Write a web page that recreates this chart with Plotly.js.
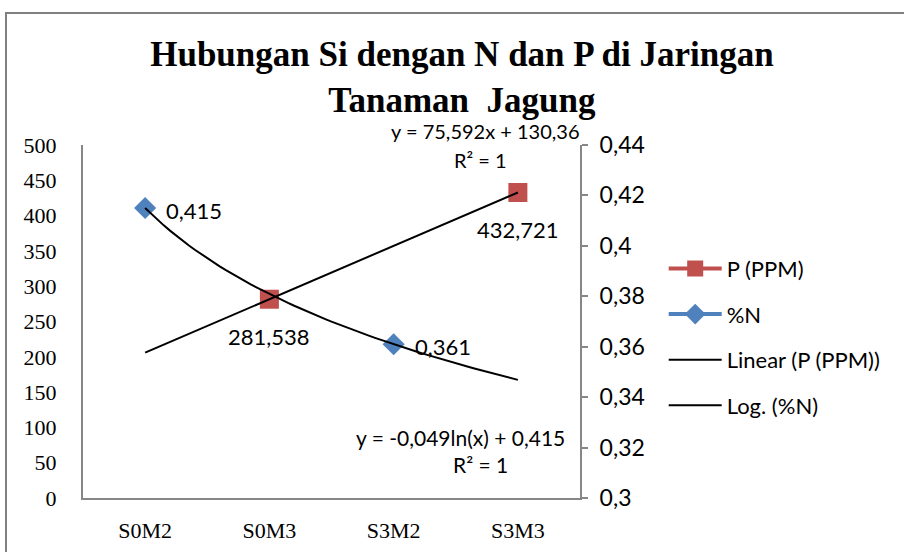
<!DOCTYPE html>
<html>
<head>
<meta charset="utf-8">
<script src="https://cdn.plot.ly/plotly-3.0.1.min.js"></script>
<style>
html,body{margin:0;padding:0;background:#fff;overflow:hidden;}
#wrap{position:relative;width:904px;height:552px;overflow:hidden;}
#chart{width:904px;height:552px;}
#frame{position:absolute;left:5px;top:12px;width:1000px;height:700px;border:2px solid #808080;pointer-events:none;}
</style>
</head>
<body>
<div id="wrap"><div id="chart"></div><div id="frame"></div></div>
<script>
// ---- data ----
var categories = ["S0M2", "S0M3", "S3M2", "S3M3"];
var xIndex = [1, 2, 3, 4];
var pPPM = [null, 281.538, null, 432.721];
var pctN = [0.415, null, 0.361, null];
var pLabels = ["", "281,538", "", "432,721"];
var nLabels = ["0,415", "", "0,361", ""];
var leftTicks = [0, 50, 100, 150, 200, 250, 300, 350, 400, 450, 500];
var rightTicks = [0.3, 0.32, 0.34, 0.36, 0.38, 0.4, 0.42, 0.44];
var rightTickText = ["0,3", "0,32", "0,34", "0,36", "0,38", "0,4", "0,42", "0,44"];
var linEq = "y = 75,592x + 130,36";
var logEq = "y = -0,049ln(x) + 0,415";
var r2Text = "R² = 1";

// ---- least-squares trendlines from the data ----
function fit(xs, ys, tx) {
  var px = [], py = [];
  for (var i = 0; i < xs.length; i++) if (ys[i] !== null) { px.push(tx(xs[i])); py.push(ys[i]); }
  var n = px.length, mx = 0, my = 0;
  for (i = 0; i < n; i++) { mx += px[i]; my += py[i]; }
  mx /= n; my /= n;
  var sxy = 0, sxx = 0;
  for (i = 0; i < n; i++) { sxy += (px[i] - mx) * (py[i] - my); sxx += (px[i] - mx) * (px[i] - mx); }
  var b = sxy / sxx; return { a: my - b * mx, b: b };
}
var linFit = fit(xIndex, pPPM, function (v) { return v; });
var logFit = fit(xIndex, pctN, function (v) { return Math.log(v); });
var trendX = [], linY = [], logY = [];
for (var s = 0; s <= 60; s++) {
  var xv = 1 + 3 * s / 60;
  trendX.push(xv);
  linY.push(linFit.a + linFit.b * xv);
  logY.push(logFit.a + logFit.b * Math.log(xv));
}

var sans = "Lato, 'Open Sans', sans-serif";
var serif = "'Liberation Serif', 'Times New Roman', serif";
var axisGray = "#878787";

var traces = [
  { x: xIndex, y: pPPM, name: "P (PPM)", legendgroup: "a", mode: "lines+markers", yaxis: "y",
    line: { color: "#C0504D", width: 4 }, marker: { symbol: "square", size: 19, color: "#C0504D" },
    connectgaps: false, hoverinfo: "skip" },
  { x: xIndex, y: pctN, name: "%N", legendgroup: "b", mode: "lines+markers", yaxis: "y2",
    line: { color: "#4F81BD", width: 4 }, marker: { symbol: "diamond", size: 17, color: "#4F81BD" },
    connectgaps: false, hoverinfo: "skip" },
  { x: trendX, y: linY, name: "Linear (P (PPM))", legendgroup: "c", mode: "lines", yaxis: "y",
    line: { color: "#000000", width: 2 }, hoverinfo: "skip" },
  { x: trendX, y: logY, name: "Log. (%N)", legendgroup: "d", mode: "lines", yaxis: "y2",
    line: { color: "#000000", width: 2 }, hoverinfo: "skip" }
];

var labelFont = { family: sans, size: 22, color: "#000" };
var eqFont = { family: sans, size: 20, color: "#000" };
var eqFont2 = { family: sans, size: 21, color: "#000" };
var annotations = [];
for (var i = 0; i < xIndex.length; i++) {
  if (pLabels[i]) annotations.push({ x: xIndex[i], y: pPPM[i], xref: "x", yref: "y", text: pLabels[i],
    showarrow: false, xanchor: "center", yanchor: "middle", yshift: -37, font: labelFont });
  if (nLabels[i]) annotations.push({ x: xIndex[i], y: pctN[i], xref: "x", yref: "y2", text: nLabels[i],
    showarrow: false, xanchor: "left", yanchor: "middle", xshift: 19, yshift: -2, font: labelFont });
}
annotations.push(
  { x: 0.809, y: 1.0397, xref: "paper", yref: "paper", xanchor: "center", yanchor: "middle", text: linEq, showarrow: false, font: eqFont },
  { x: 0.799, y: 0.9575, xref: "paper", yref: "paper", xanchor: "center", yanchor: "middle", text: r2Text, showarrow: false, font: eqFont },
  { x: 0.7586, y: 0.1728, xref: "paper", yref: "paper", xanchor: "center", yanchor: "middle", text: logEq, showarrow: false, font: eqFont2 },
  { x: 0.799, y: 0.0935, xref: "paper", yref: "paper", xanchor: "center", yanchor: "middle", text: r2Text, showarrow: false, font: eqFont2 }
);

var layout = {
  width: 904, height: 552,
  margin: { l: 83, r: 324, t: 145, b: 54 },
  paper_bgcolor: "rgba(0,0,0,0)", plot_bgcolor: "rgba(0,0,0,0)",
  showlegend: true,
  title: { text: "Hubungan Si dengan N dan P di Jaringan<br>Tanaman  Jagung", x: 0.511, xanchor: "center",
    y: 0.88, yanchor: "top", font: { family: serif, size: 35, color: "#000", weight: "bold" } },
  xaxis: { range: [0.5, 4.5], tickvals: xIndex, ticktext: categories, showgrid: false, zeroline: false,
    showline: true, linecolor: axisGray, linewidth: 2, ticks: "", ticklabelstandoff: 12,
    tickfont: { family: serif, size: 22, color: "#000" }, fixedrange: true },
  yaxis: { range: [0, 500], tickvals: leftTicks, showgrid: false, zeroline: false, showline: true,
    linecolor: axisGray, linewidth: 2, ticks: "", ticklabelstandoff: 20,
    tickfont: { family: serif, size: 22, color: "#000" }, fixedrange: true },
  yaxis2: { range: [0.3, 0.44], overlaying: "y", side: "right", tickvals: rightTicks, ticktext: rightTickText,
    showgrid: false, zeroline: false, showline: true, linecolor: axisGray, linewidth: 2,
    ticks: "outside", ticklen: 6, tickwidth: 2, tickcolor: axisGray, ticklabelstandoff: 7,
    tickfont: { family: sans, size: 23, color: "#000" }, fixedrange: true },
  legend: { x: 1.1684, xanchor: "left", y: 0.709, yanchor: "top", traceorder: "grouped", tracegroupgap: 14,
    itemwidth: 53, font: { family: sans, size: 22, color: "#000" }, bgcolor: "rgba(0,0,0,0)" },
  annotations: annotations
};

Plotly.newPlot("chart", traces, layout, { displayModeBar: false, staticPlot: true });
</script>
</body>
</html>
